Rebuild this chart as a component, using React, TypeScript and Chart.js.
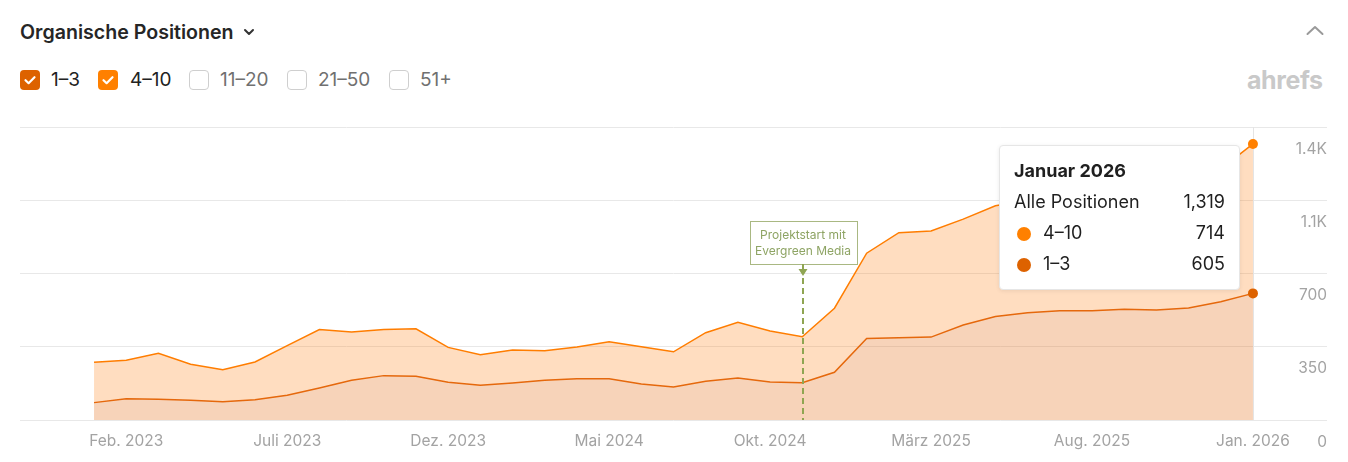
import React, { useEffect, useRef } from 'react';
import { Chart, registerables } from 'chart.js';

Chart.register(...registerables);

// ---- data ----
const months = [
  'Jan. 2023', 'Feb. 2023', 'März 2023', 'Apr. 2023', 'Mai 2023', 'Juni 2023', 'Juli 2023', 'Aug. 2023', 'Sept. 2023', 'Okt. 2023', 'Nov. 2023', 'Dez. 2023',
  'Jan. 2024', 'Feb. 2024', 'März 2024', 'Apr. 2024', 'Mai 2024', 'Juni 2024', 'Juli 2024', 'Aug. 2024', 'Sept. 2024', 'Okt. 2024', 'Nov. 2024', 'Dez. 2024',
  'Jan. 2025', 'Feb. 2025', 'März 2025', 'Apr. 2025', 'Mai 2025', 'Juni 2025', 'Juli 2025', 'Aug. 2025', 'Sept. 2025', 'Okt. 2025', 'Nov. 2025', 'Dez. 2025',
  'Jan. 2026',
];
const positions1to3 = [
  83, 102, 99, 94, 87, 97, 118, 153, 190, 212, 209, 180,
  166, 177, 190, 197, 197, 172, 158, 185, 201, 182, 178, 228,
  390, 393, 396, 454, 494, 513, 522, 522, 529, 526, 535, 565,
  605,
];
const positions4to10 = [
  193, 183, 220, 172, 153, 180, 237, 279, 231, 220, 227, 167,
  146, 158, 141, 152, 177, 178, 168, 232, 266, 243, 220, 306,
  407, 502, 507, 506, 530, 537, 553, 573, 586, 609, 620, 634,
  714,
];
const xTickIndices = [1, 6, 11, 16, 21, 26, 31, 36];
const yTicks = [0, 350, 700, 1050, 1400];
const yTickLabels = ['0', '350', '700', '1.1K', '1.4K'];
const annotationIndex = 22;
const annotationLines = ['Projektstart mit', 'Evergreen Media'];
const tooltipTitle = 'Januar 2026';
const seriesNames = ['1–3', '4–10'];
const filterOptions = [
  { label: '1–3', checked: true, color: '#dd6200' },
  { label: '4–10', checked: true, color: '#ff8000' },
  { label: '11–20', checked: false, color: '' },
  { label: '21–50', checked: false, color: '' },
  { label: '51+', checked: false, color: '' },
];
const filterLefts = [20, 98, 189, 287, 389];

const COL13_LINE = '#e5680c';
const COL13_FILL = 'rgba(228,108,22,0.30)';
const COL410_LINE = '#ff7d00';
const COL410_FILL = 'rgba(255,134,28,0.28)';

const lastIdx = months.length - 1;

const annotationPlugin = {
  id: 'annotations',
  beforeDatasetsDraw(chart: any) {
    const { ctx, chartArea: a, scales } = chart;
    const hx = Math.round(scales.x.getPixelForValue(lastIdx)) + 0.5;
    ctx.save();
    ctx.strokeStyle = '#e4e4e4';
    ctx.lineWidth = 1;
    ctx.beginPath();
    ctx.moveTo(hx, a.top);
    ctx.lineTo(hx, a.bottom);
    ctx.stroke();
    ctx.restore();
  },
  afterDatasetsDraw(chart: any) {
    const { ctx, chartArea: a, scales } = chart;
    const px = Math.round(scales.x.getPixelForValue(annotationIndex)) + 1;
    const boxW = 107;
    const boxH = 43;
    const boxTop = a.top + 94;
    const boxLeft = px - boxW / 2;
    ctx.save();
    ctx.fillStyle = '#ffffff';
    ctx.fillRect(boxLeft, boxTop, boxW, boxH);
    ctx.strokeStyle = '#a9b882';
    ctx.lineWidth = 1;
    ctx.strokeRect(Math.round(boxLeft) + 0.5, Math.round(boxTop) + 0.5, boxW, boxH);
    ctx.fillStyle = '#8ea464';
    ctx.font = '12px Inter, sans-serif';
    ctx.textAlign = 'center';
    ctx.textBaseline = 'middle';
    ctx.fillText(annotationLines[0], px, boxTop + 14);
    ctx.fillText(annotationLines[1], px, boxTop + 30);
    // stem + arrow
    ctx.strokeStyle = '#8fa552';
    ctx.fillStyle = '#8fa552';
    ctx.lineWidth = 2;
    ctx.beginPath();
    ctx.moveTo(px, boxTop + boxH);
    ctx.lineTo(px, boxTop + boxH + 6);
    ctx.stroke();
    ctx.beginPath();
    ctx.moveTo(px - 4.5, boxTop + boxH + 5);
    ctx.lineTo(px + 4.5, boxTop + boxH + 5);
    ctx.lineTo(px, boxTop + boxH + 12);
    ctx.closePath();
    ctx.fill();
    ctx.setLineDash([6, 4]);
    ctx.beginPath();
    ctx.moveTo(px, boxTop + boxH + 14);
    ctx.lineTo(px, a.bottom);
    ctx.stroke();
    ctx.restore();
  },
};

function ChartCanvas() {
  const ref = useRef<HTMLCanvasElement | null>(null);
  useEffect(() => {
    if (!ref.current) return;
    Chart.defaults.font.family = 'Inter, sans-serif';
    const pr = (c: any) => (c.dataIndex === lastIdx ? 5 : 0);
    const chart = new Chart(ref.current, {
      type: 'line',
      data: {
        datasets: [
          {
            label: seriesNames[0],
            data: positions1to3.map((v, i) => ({ x: i, y: v })),
            borderColor: COL13_LINE,
            backgroundColor: COL13_FILL,
            fill: 'origin',
            borderWidth: 1.5,
            pointRadius: pr,
            pointHoverRadius: pr,
            pointBackgroundColor: '#dd6200',
            pointBorderWidth: 0,
            tension: 0,
            clip: false,
          },
          {
            label: seriesNames[1],
            data: positions4to10.map((v, i) => ({ x: i, y: v })),
            borderColor: COL410_LINE,
            backgroundColor: COL410_FILL,
            fill: '-1',
            borderWidth: 1.5,
            pointRadius: pr,
            pointHoverRadius: pr,
            pointBackgroundColor: '#ff8000',
            pointBorderWidth: 0,
            tension: 0,
            clip: false,
          },
        ],
      },
      options: {
        animation: false,
        responsive: false,
        events: [],
        layout: { padding: { top: 27, left: 20, right: 21, bottom: 0 } },
        plugins: { legend: { display: false }, tooltip: { enabled: false } },
        scales: {
          x: {
            type: 'linear',
            min: -2.3,
            max: 38.3,
            grid: { display: false, drawTicks: false },
            border: { display: false },
            afterBuildTicks: (s: any) => {
              s.ticks = xTickIndices.map((v) => ({ value: v }));
            },
            afterFit: (s: any) => {
              s.height = 42;
            },
            ticks: {
              autoSkip: false,
              maxRotation: 0,
              padding: 12,
              color: '#a3a3a3',
              font: { size: 15.5 },
              callback: (v: any) => months[v as number] ?? '',
            },
          },
          y: {
            position: 'right',
            stacked: true,
            min: 0,
            max: 1400,
            grid: { color: '#e8e8e8', drawTicks: false, lineWidth: 1 },
            border: { display: false },
            afterBuildTicks: (s: any) => {
              s.ticks = yTicks.map((v) => ({ value: v }));
            },
            afterFit: (s: any) => {
              s.width = 0;
            },
            ticks: {
              mirror: true,
              padding: 0,
              labelOffset: 22,
              color: '#a3a3a3',
              font: { size: 15.5 },
              callback: (v: any) => yTickLabels[yTicks.indexOf(v as number)] ?? '',
            },
          },
        },
      },
      plugins: [annotationPlugin],
    } as any);
    return () => chart.destroy();
  }, []);
  return (
    <canvas
      ref={ref}
      width={1348}
      height={362}
      style={{ position: 'absolute', left: 0, top: 100, width: 1348, height: 362 }}
    />
  );
}

function Check() {
  return (
    <svg width="20" height="20" viewBox="0 0 20 20" style={{ position: 'absolute', left: 0, top: 0 }}>
      <path d="M5.5 10.2 L8.6 13.2 L14.5 7.2" fill="none" stroke="#fff" strokeWidth="2.2" strokeLinecap="round" strokeLinejoin="round" />
    </svg>
  );
}

export default function App() {
  const total = positions1to3[lastIdx] + positions4to10[lastIdx];
  const fmt = (n: number) => n.toLocaleString('en-US');
  return (
    <div
      style={{
        position: 'absolute',
        left: 0,
        top: 0,
        width: 1348,
        height: 462,
        background: '#fff',
        overflow: 'hidden',
        fontFamily: 'Inter, sans-serif',
      }}
    >
      <div
        style={{
          position: 'absolute',
          left: 20,
          top: 20,
          fontSize: 19.6,
          fontWeight: 600,
          color: '#262626',
          lineHeight: '24px',
          whiteSpace: 'nowrap',
        }}
      >
        Organische Positionen
      </div>
      <svg width="12" height="8" viewBox="0 0 12 8" style={{ position: 'absolute', left: 243, top: 28 }}>
        <path d="M2 2 L6 6 L10 2" fill="none" stroke="#333" strokeWidth="2" strokeLinecap="round" strokeLinejoin="round" />
      </svg>
      <svg width="20" height="12" viewBox="0 0 20 12" style={{ position: 'absolute', left: 1305, top: 24 }}>
        <path d="M2.5 10 L10 3 L17.5 10" fill="none" stroke="#9a9a9a" strokeWidth="2" strokeLinecap="round" strokeLinejoin="round" />
      </svg>
      {filterOptions.map((f, i) => (
        <div key={f.label} style={{ position: 'absolute', left: filterLefts[i], top: 70, height: 20 }}>
          <div
            style={{
              position: 'absolute',
              left: 0,
              top: 0,
              width: 20,
              height: 20,
              boxSizing: 'border-box',
              borderRadius: 4,
              background: f.checked ? f.color : '#fff',
              border: f.checked ? 'none' : '1.5px solid #cfcfcf',
            }}
          >
            {f.checked ? <Check /> : null}
          </div>
          <div
            style={{
              position: 'absolute',
              left: i === 1 ? 32 : 31,
              top: -2,
              fontSize: 19,
              lineHeight: '24px',
              color: f.checked ? '#222' : '#707070',
              whiteSpace: 'nowrap',
            }}
          >
            {f.label}
          </div>
        </div>
      ))}
      <div
        style={{
          position: 'absolute',
          left: 1247,
          top: 65,
          fontSize: 25,
          fontWeight: 700,
          letterSpacing: -0.4,
          color: '#c9c9c9',
          lineHeight: '30px',
        }}
      >
        ahrefs
      </div>
      <ChartCanvas />
      <div
        style={{
          position: 'absolute',
          left: 999,
          top: 145,
          width: 241,
          height: 145,
          boxSizing: 'border-box',
          background: '#fff',
          border: '1px solid #e6e6e6',
          borderRadius: 4,
          boxShadow: '0 1px 4px rgba(0,0,0,0.08)',
          color: '#1f1f1f',
          fontSize: 18,
        }}
      >
        <div style={{ position: 'absolute', left: 14, top: 13, lineHeight: '24px', fontWeight: 700 }}>{tooltipTitle}</div>
        <div style={{ position: 'absolute', left: 14, top: 44, lineHeight: '24px' }}>Alle Positionen</div>
        <div style={{ position: 'absolute', right: 14, top: 44, lineHeight: '24px' }}>{fmt(total)}</div>
        <div style={{ position: 'absolute', left: 17, top: 81, width: 14, height: 14, borderRadius: 7, background: '#ff8000' }} />
        <div style={{ position: 'absolute', left: 43, top: 75, lineHeight: '24px' }}>{seriesNames[1]}</div>
        <div style={{ position: 'absolute', right: 14, top: 75, lineHeight: '24px' }}>{fmt(positions4to10[lastIdx])}</div>
        <div style={{ position: 'absolute', left: 17, top: 112, width: 14, height: 14, borderRadius: 7, background: '#dd6200' }} />
        <div style={{ position: 'absolute', left: 43, top: 106, lineHeight: '24px' }}>{seriesNames[0]}</div>
        <div style={{ position: 'absolute', right: 14, top: 106, lineHeight: '24px' }}>{fmt(positions1to3[lastIdx])}</div>
      </div>
    </div>
  );
}
